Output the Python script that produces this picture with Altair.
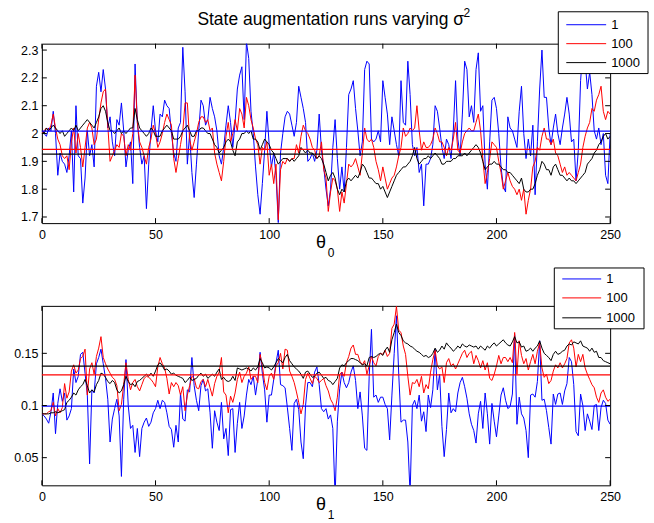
import altair as alt
import pandas as pd

# ---- series values, one entry per iteration 0..250 ----
SERIES = ["1", "100", "1000"]
COLORS = ["#0000ff", "#ff0000", "#000000"]

THETA0_S1 = [
    2.01, 2.00, 1.99, 2.02, 2.01, 2.08, 2.00, 1.85, 1.93, 1.90,
    1.89, 1.86, 1.92, 2.01, 1.79, 2.10, 1.92, 1.91, 1.75, 1.84,
    2.01, 1.92, 1.96, 1.88, 2.17, 2.22, 2.15, 2.23, 2.16, 2.02,
    2.06, 1.97, 1.92, 2.05, 2.03, 2.11, 2.01, 1.88, 1.94, 1.97,
    1.82, 2.25, 2.04, 1.95, 1.89, 1.92, 1.73, 1.89, 2.01, 2.10,
    2.01, 1.97, 2.07, 2.06, 2.12, 2.10, 2.09, 2.00, 1.93, 1.90,
    2.02, 2.04, 2.31, 2.15, 1.89, 2.00, 1.86, 1.77, 1.89, 2.01,
    2.12, 2.10, 2.03, 2.05, 2.13, 2.09, 2.06, 2.01, 1.92, 1.89,
    1.95, 2.03, 2.10, 2.04, 1.95, 2.04, 2.16, 2.21, 2.24, 2.05,
    2.33, 2.27, 2.08, 2.00, 1.88, 1.78, 1.71, 1.82, 1.94, 2.08,
    1.96, 1.88, 1.93, 1.85, 1.68, 1.93, 2.00, 2.06, 2.08, 2.07,
    2.03, 1.99, 2.04, 2.17, 2.13, 2.09, 2.04, 1.90, 1.91, 1.93,
    1.90, 1.94, 2.07, 1.94, 1.88, 1.80, 1.74, 1.80, 1.95, 2.05,
    1.91, 1.80, 1.88, 1.79, 1.95, 2.14, 2.16, 2.19, 2.09, 2.01,
    1.92, 1.97, 2.23, 2.26, 2.25, 1.98, 1.97, 1.98, 2.01, 1.97,
    2.19, 2.13, 2.07, 1.96, 2.06, 2.01, 1.96, 1.92, 2.19, 2.04,
    2.03, 2.26, 2.14, 1.96, 1.92, 1.95, 1.86, 1.89, 1.74, 1.89,
    1.89, 1.91, 1.96, 2.10, 2.08, 2.02, 1.95, 1.91, 1.98, 1.96,
    1.91, 2.01, 2.19, 1.98, 1.92, 2.07, 2.26, 2.23, 2.06, 2.10,
    2.04, 2.23, 2.29, 2.08, 2.10, 1.89, 1.80, 1.97, 2.12, 2.13,
    2.09, 2.00, 1.88, 1.81, 1.79, 2.06, 2.02, 2.01, 1.98, 1.95,
    2.08, 2.17, 2.00, 1.91, 1.98, 1.92, 2.03, 1.78, 1.97, 2.16,
    2.30, 2.13, 2.13, 2.02, 1.96, 2.02, 2.07, 2.00, 1.96, 2.02,
    2.07, 2.13, 2.07, 1.97, 1.98, 1.83, 1.94, 2.19, 2.30, 2.26,
    2.16, 2.22, 2.14, 2.01, 1.98, 2.02, 1.96, 2.00, 1.85, 1.82, 2.00,
]

THETA0_S100 = [
    2.00, 2.01, 2.02, 2.01, 2.03, 2.07, 2.02, 1.98, 1.96, 1.92,
    1.91, 1.92, 1.87, 1.97, 2.02, 1.93, 2.00, 1.95, 1.88, 1.95,
    2.02, 2.04, 2.02, 1.96, 1.98, 2.05, 2.11, 2.15, 2.16, 2.03,
    1.90, 1.92, 1.94, 1.96, 1.95, 2.00, 1.99, 1.92, 1.96, 1.94,
    2.00, 2.21, 2.04, 1.97, 1.95, 1.92, 1.89, 1.95, 1.98, 2.03,
    2.00, 1.95, 1.97, 2.00, 2.04, 2.07, 2.05, 2.03, 1.91, 1.86,
    1.91, 1.96, 2.01, 2.11, 2.11, 1.98, 1.94, 1.97, 2.00, 2.04,
    2.06, 2.06, 2.04, 2.05, 2.01, 2.02, 1.93, 1.89, 1.86, 1.83,
    1.90, 1.99, 2.04, 1.97, 2.00, 2.05, 2.01, 2.09, 2.07, 2.02,
    2.13, 2.10, 2.05, 2.02, 1.98, 1.96, 1.89, 1.95, 1.94, 1.97,
    1.85, 1.89, 1.82, 1.89, 1.69, 1.87, 1.90, 1.89, 1.91, 1.90,
    1.91, 1.91, 1.96, 1.93, 1.99, 2.03, 2.01, 2.00, 1.98, 1.95,
    1.94, 1.91, 1.92, 1.97, 1.87, 1.84, 1.72, 1.79, 1.84, 1.83,
    1.80, 1.72, 1.79, 1.75, 1.82, 1.89, 1.88, 1.89, 1.91, 1.88,
    1.85, 1.93, 2.02, 1.98, 1.97, 1.98, 1.95, 1.90, 1.87, 1.83,
    1.88, 1.84, 1.80, 1.82, 1.84, 1.85, 1.88, 1.92, 1.95, 2.02,
    1.99, 2.00, 2.02, 2.01, 2.02, 2.10, 2.01, 1.94, 1.97, 1.95,
    1.95, 1.96, 1.98, 2.02, 2.00, 1.97, 1.97, 1.95, 1.92, 1.95,
    1.94, 1.98, 2.04, 1.94, 1.93, 1.97, 2.00, 2.01, 2.02, 2.01,
    2.01, 2.04, 2.07, 2.01, 1.91, 1.82, 1.86, 1.91, 1.97, 1.96,
    1.95, 1.90, 1.86, 1.80, 1.83, 1.86, 1.83, 1.81, 1.80, 1.78,
    1.80, 1.76, 1.80, 1.71, 1.76, 1.80, 1.88, 1.90, 1.95, 1.94,
    1.99, 2.02, 1.98, 1.98, 1.96, 1.98, 1.93, 1.92, 1.89, 1.86,
    1.88, 1.85, 1.86, 1.85, 1.84, 1.83, 1.86, 1.89, 1.95, 1.99,
    2.02, 2.04, 2.09, 2.08, 2.12, 2.14, 2.17, 2.08, 2.05, 2.08, 2.07,
]

THETA0_S1000 = [
    2.01, 2.00, 2.02, 2.01, 2.02, 2.03, 2.02, 2.01, 2.00, 2.01,
    1.99, 2.00, 2.01, 2.02, 2.01, 2.03, 2.01, 2.02, 2.03, 2.04,
    2.05, 2.04, 2.03, 2.02, 2.04, 2.06, 2.09, 2.10, 2.08, 2.04,
    2.01, 2.01, 2.00, 2.01, 2.02, 2.00, 2.01, 2.00, 2.01, 2.02,
    2.02, 2.09, 2.05, 2.02, 2.01, 2.00, 1.99, 2.00, 2.02, 2.01,
    1.99, 1.99, 1.99, 2.01, 2.02, 2.03, 2.02, 2.01, 1.98, 1.98,
    1.98, 1.99, 2.01, 2.02, 2.03, 2.01, 1.99, 1.99, 2.01, 2.01,
    2.02, 2.02, 2.01, 2.00, 2.00, 1.98, 1.96, 1.95, 1.93, 1.94,
    1.95, 1.97, 1.98, 1.97, 1.94, 1.92, 1.97, 1.98, 2.00, 2.00,
    2.01, 2.00, 2.01, 1.98, 1.98, 1.97, 1.94, 1.96, 1.98, 1.97,
    1.96, 1.94, 1.93, 1.91, 1.89, 1.90, 1.91, 1.91, 1.91, 1.90,
    1.91, 1.90, 1.91, 1.92, 1.95, 1.94, 1.93, 1.94, 1.93, 1.93,
    1.92, 1.91, 1.92, 1.91, 1.89, 1.86, 1.83, 1.85, 1.86, 1.84,
    1.80, 1.78, 1.80, 1.79, 1.83, 1.84, 1.83, 1.84, 1.85, 1.84,
    1.86, 1.89, 1.88, 1.86, 1.84, 1.84, 1.83, 1.82, 1.82, 1.80,
    1.81, 1.79, 1.77, 1.79, 1.81, 1.83, 1.85, 1.86, 1.87, 1.88,
    1.88, 1.89, 1.90, 1.92, 1.95, 1.91, 1.89, 1.90, 1.91, 1.91,
    1.92, 1.91, 1.92, 1.93, 1.92, 1.91, 1.89, 1.89, 1.90, 1.90,
    1.90, 1.91, 1.91, 1.92, 1.92, 1.92, 1.93, 1.92, 1.93, 1.94,
    1.95, 1.96, 1.95, 1.93, 1.90, 1.87, 1.88, 1.89, 1.89, 1.90,
    1.89, 1.89, 1.88, 1.87, 1.87, 1.86, 1.86, 1.85, 1.84, 1.83,
    1.82, 1.84, 1.80, 1.79, 1.79, 1.80, 1.80, 1.82, 1.85, 1.87,
    1.90, 1.89, 1.87, 1.87, 1.85, 1.88, 1.89, 1.87, 1.85, 1.85,
    1.84, 1.83, 1.84, 1.83, 1.83, 1.82, 1.83, 1.84, 1.85, 1.86,
    1.89, 1.90, 1.91, 1.93, 1.94, 1.96, 1.97, 1.99, 2.00, 1.98, 1.99,
]

THETA1_S1 = [
    0.092, 0.090, 0.087, 0.083, 0.094, 0.112, 0.073, 0.102, 0.116, 0.104,
    0.112, 0.086, 0.090, 0.097, 0.135, 0.122, 0.128, 0.149, 0.151, 0.131,
    0.110, 0.044, 0.115, 0.112, 0.140, 0.146, 0.154, 0.140, 0.126, 0.106,
    0.065, 0.087, 0.097, 0.106, 0.090, 0.032, 0.106, 0.144, 0.100, 0.078,
    0.081, 0.055, 0.078, 0.051, 0.078, 0.084, 0.088, 0.080, 0.084, 0.093,
    0.097, 0.105, 0.097, 0.105, 0.103, 0.093, 0.080, 0.077, 0.060, 0.081,
    0.065, 0.112, 0.087, 0.085, 0.115, 0.113, 0.146, 0.119, 0.105, 0.095,
    0.119, 0.125, 0.114, 0.116, 0.093, 0.059, 0.095, 0.084, 0.076, 0.103,
    0.068, 0.078, 0.052, 0.096, 0.097, 0.055, 0.083, 0.103, 0.078, 0.090,
    0.110, 0.125, 0.120, 0.128, 0.110, 0.125, 0.151, 0.131, 0.115, 0.084,
    0.110, 0.110, 0.125, 0.141, 0.153, 0.120, 0.119, 0.117, 0.098, 0.078,
    0.057, 0.102, 0.106, 0.096, 0.065, 0.049, 0.100, 0.122, 0.122, 0.118,
    0.132, 0.137, 0.120, 0.097, 0.094, 0.097, 0.087, 0.091, 0.078, 0.012,
    0.085, 0.116, 0.132, 0.122, 0.117, 0.122, 0.132, 0.138, 0.124, 0.097,
    0.113, 0.090, 0.059, 0.057, 0.128, 0.173, 0.108, 0.110, 0.103, 0.108,
    0.108, 0.101, 0.097, 0.067, 0.110, 0.150, 0.186, 0.130, 0.084, 0.086,
    0.086, 0.065, 0.015, 0.100, 0.105, 0.097, 0.110, 0.085, 0.094, 0.075,
    0.110, 0.098, 0.115, 0.154, 0.115, 0.130, 0.080, 0.051, 0.077, 0.112,
    0.093, 0.097, 0.094, 0.112, 0.122, 0.127, 0.118, 0.107, 0.092, 0.082,
    0.076, 0.064, 0.092, 0.104, 0.078, 0.112, 0.092, 0.063, 0.102, 0.085,
    0.070, 0.090, 0.110, 0.117, 0.105, 0.097, 0.099, 0.111, 0.168, 0.082,
    0.108, 0.092, 0.088, 0.076, 0.050, 0.110, 0.111, 0.108, 0.123, 0.162,
    0.105, 0.106, 0.095, 0.079, 0.063, 0.111, 0.101, 0.111, 0.112, 0.101,
    0.114, 0.121, 0.146, 0.142, 0.120, 0.075, 0.071, 0.111, 0.100, 0.076,
    0.092, 0.085, 0.077, 0.100, 0.101, 0.076, 0.098, 0.105, 0.102, 0.086, 0.082,
]

THETA1_S100 = [
    0.092, 0.092, 0.092, 0.094, 0.095, 0.103, 0.090, 0.097, 0.093, 0.098,
    0.121, 0.107, 0.113, 0.133, 0.139, 0.131, 0.134, 0.145, 0.147, 0.154,
    0.110, 0.135, 0.141, 0.130, 0.147, 0.155, 0.166, 0.146, 0.140, 0.135,
    0.131, 0.127, 0.125, 0.119, 0.095, 0.101, 0.120, 0.141, 0.125, 0.115,
    0.122, 0.125, 0.118, 0.114, 0.120, 0.126, 0.128, 0.127, 0.125, 0.122,
    0.118, 0.137, 0.146, 0.140, 0.136, 0.126, 0.111, 0.122, 0.118, 0.122,
    0.119, 0.110, 0.118, 0.095, 0.110, 0.119, 0.128, 0.126, 0.117, 0.116,
    0.123, 0.125, 0.118, 0.125, 0.117, 0.109, 0.121, 0.128, 0.132, 0.146,
    0.113, 0.110, 0.093, 0.109, 0.103, 0.112, 0.125, 0.132, 0.122, 0.128,
    0.131, 0.137, 0.125, 0.128, 0.128, 0.122, 0.149, 0.138, 0.122, 0.115,
    0.128, 0.131, 0.125, 0.138, 0.141, 0.150, 0.135, 0.154, 0.153, 0.133,
    0.128, 0.122, 0.113, 0.103, 0.092, 0.101, 0.125, 0.131, 0.126, 0.121,
    0.128, 0.126, 0.122, 0.124, 0.126, 0.119, 0.114, 0.106, 0.102, 0.095,
    0.108, 0.130, 0.132, 0.128, 0.141, 0.147, 0.155, 0.158, 0.149, 0.149,
    0.142, 0.139, 0.143, 0.130, 0.138, 0.147, 0.141, 0.138, 0.147, 0.150,
    0.149, 0.153, 0.147, 0.150, 0.174, 0.178, 0.195, 0.172, 0.170, 0.157,
    0.149, 0.128, 0.110, 0.122, 0.121, 0.125, 0.118, 0.128, 0.112, 0.120,
    0.116, 0.132, 0.144, 0.153, 0.138, 0.135, 0.137, 0.122, 0.141, 0.145,
    0.138, 0.140, 0.135, 0.140, 0.145, 0.150, 0.153, 0.146, 0.150, 0.152,
    0.140, 0.148, 0.143, 0.136, 0.143, 0.134, 0.141, 0.126, 0.124, 0.130,
    0.138, 0.148, 0.140, 0.146, 0.146, 0.142, 0.146, 0.141, 0.170, 0.130,
    0.162, 0.148, 0.140, 0.145, 0.134, 0.142, 0.149, 0.140, 0.152, 0.160,
    0.136, 0.127, 0.130, 0.121, 0.124, 0.133, 0.139, 0.136, 0.141, 0.136,
    0.140, 0.145, 0.160, 0.163, 0.155, 0.137, 0.149, 0.142, 0.149, 0.136,
    0.130, 0.125, 0.120, 0.117, 0.108, 0.103, 0.112, 0.115, 0.108, 0.104, 0.106,
]

THETA1_S1000 = [
    0.092, 0.092, 0.092, 0.092, 0.093, 0.093, 0.094, 0.093, 0.094, 0.095,
    0.096, 0.103, 0.105, 0.108, 0.112, 0.110, 0.115, 0.118, 0.120, 0.125,
    0.119, 0.112, 0.115, 0.113, 0.120, 0.124, 0.131, 0.130, 0.127, 0.123,
    0.121, 0.124, 0.122, 0.115, 0.112, 0.114, 0.120, 0.128, 0.123, 0.120,
    0.121, 0.118, 0.123, 0.124, 0.126, 0.128, 0.130, 0.128, 0.131, 0.128,
    0.133, 0.139, 0.141, 0.138, 0.134, 0.135, 0.133, 0.130, 0.131, 0.129,
    0.128, 0.127, 0.126, 0.122, 0.124, 0.127, 0.124, 0.125, 0.126, 0.129,
    0.131, 0.128, 0.130, 0.126, 0.128, 0.130, 0.128, 0.132, 0.135, 0.125,
    0.127, 0.124, 0.123, 0.124, 0.128, 0.124, 0.136, 0.135, 0.134, 0.135,
    0.136, 0.135, 0.133, 0.136, 0.134, 0.137, 0.145, 0.141, 0.136, 0.137,
    0.136, 0.134, 0.137, 0.141, 0.145, 0.143, 0.141, 0.146, 0.149, 0.143,
    0.140, 0.137, 0.135, 0.133, 0.130, 0.126, 0.132, 0.133, 0.130, 0.127,
    0.128, 0.131, 0.132, 0.129, 0.126, 0.127, 0.124, 0.123, 0.120, 0.123,
    0.126, 0.136, 0.139, 0.138, 0.141, 0.143, 0.145, 0.145, 0.144, 0.143,
    0.141, 0.139, 0.140, 0.138, 0.146, 0.147, 0.146, 0.147, 0.149, 0.150,
    0.148, 0.153, 0.156, 0.151, 0.163, 0.170, 0.178, 0.170, 0.167, 0.162,
    0.160, 0.159, 0.157, 0.156, 0.154, 0.152, 0.151, 0.149, 0.147, 0.148,
    0.146, 0.147, 0.150, 0.155, 0.151, 0.153, 0.157, 0.154, 0.160, 0.157,
    0.155, 0.152, 0.154, 0.157, 0.155, 0.159, 0.157, 0.156, 0.158, 0.157,
    0.156, 0.157, 0.154, 0.157, 0.155, 0.153, 0.157, 0.155, 0.158, 0.160,
    0.157, 0.159, 0.161, 0.163, 0.160, 0.158, 0.157, 0.161, 0.166, 0.160,
    0.161, 0.156, 0.157, 0.152, 0.153, 0.155, 0.152, 0.155, 0.157, 0.162,
    0.155, 0.150, 0.148, 0.146, 0.143, 0.149, 0.152, 0.149, 0.150, 0.152,
    0.153, 0.157, 0.159, 0.158, 0.161, 0.160, 0.159, 0.162, 0.157, 0.156,
    0.155, 0.152, 0.155, 0.151, 0.152, 0.146, 0.146, 0.143, 0.142, 0.141, 0.140,
]

# horizontal reference levels per run
THETA0_MEANS = [2.009, 1.943, 1.926]
THETA1_MEANS = [0.0995, 0.1293, 0.1377]

X_TICKS = [0, 50, 100, 150, 200, 250]
THETA0_TICKS = [1.7, 1.8, 1.9, 2.0, 2.1, 2.2, 2.3]
THETA1_TICKS = [0.05, 0.1, 0.15]
THETA0_DOMAIN = [1.678, 2.323]
THETA1_DOMAIN = [0.0235, 0.1955]

TITLE = "State augmentation runs varying \u03c3"
TITLE_EXP = "2"
FONT = "Liberation Sans"
W, H = 570, 180
GAP = 83
CANVAS_W, CANVAS_H = 654, 523
ORIGIN_X, ORIGIN_Y = 41, 42


def panel(series_values, means, y_domain, y_ticks, subscript, legend, with_title=False):
    frames = [
        pd.DataFrame({"t": list(range(len(vals))), "v": vals, "s": name})
        for name, vals in zip(SERIES, series_values)
    ]
    df = pd.concat(frames, ignore_index=True)
    mean_df = pd.DataFrame({"s": SERIES, "v": means})

    x_enc = alt.X(
        "t:Q",
        scale=alt.Scale(domain=[0, 250], nice=False, zero=False),
        axis=alt.Axis(values=X_TICKS, ticks=False, domain=False, grid=False,
                      title=None, labelPadding=5, labelFlush=False, format="d"),
    )
    y_enc = alt.Y(
        "v:Q",
        scale=alt.Scale(domain=y_domain, nice=False, zero=False),
        axis=alt.Axis(values=y_ticks, ticks=False, domain=False, grid=False,
                      title=None, labelPadding=4, labelFlush=False, format="~g"),
    )
    color = alt.Color("s:N", scale=alt.Scale(domain=SERIES, range=COLORS), legend=None)

    lines = alt.Chart(df).mark_line(strokeWidth=1, clip=True).encode(
        x=x_enc, y=y_enc, color=color
    )
    levels = alt.Chart(mean_df).mark_rule(strokeWidth=1.3).encode(y=y_enc, color=color)

    # inward tick marks on all four sides of the box
    xt = pd.DataFrame({"t": X_TICKS})
    yt = pd.DataFrame({"v": y_ticks})
    tick_style = dict(color="black", strokeWidth=1)
    ticks = [
        alt.Chart(xt).mark_rule(**tick_style).encode(x=x_enc, y=alt.value(H), y2=alt.value(H - 5)),
        alt.Chart(xt).mark_rule(**tick_style).encode(x=x_enc, y=alt.value(0), y2=alt.value(5)),
        alt.Chart(yt).mark_rule(**tick_style).encode(y=y_enc, x=alt.value(0), x2=alt.value(5)),
        alt.Chart(yt).mark_rule(**tick_style).encode(y=y_enc, x=alt.value(W), x2=alt.value(W - 5)),
    ]

    one = pd.DataFrame({"k": [0]})

    def text(s, x, y, size, align="center"):
        return alt.Chart(one).mark_text(
            text=s, font=FONT, fontSize=size, align=align, baseline="middle", color="black"
        ).encode(x=alt.value(x), y=alt.value(y))

    # x-axis label: theta with a subscript index
    labels = [text("\u03b8", 280, 200, 18), text(subscript, 290, 210, 12)]

    # boxed legend in the upper right corner
    bx0, bx1, by0, by1, lx0, lx1, tx, rows = legend
    leg = [
        alt.Chart(one).mark_rect(fill="white", stroke="black", strokeWidth=1)
        .encode(x=alt.value(bx0), x2=alt.value(bx1), y=alt.value(by0), y2=alt.value(by1))
    ]
    for name, col, ry in zip(SERIES, COLORS, rows):
        leg.append(
            alt.Chart(one).mark_rule(color=col, strokeWidth=1)
            .encode(x=alt.value(lx0), x2=alt.value(lx1), y=alt.value(ry))
        )
        leg.append(text(name, tx, ry, 13, align="left"))

    layers = [lines, levels] + ticks + labels + leg
    if with_title:
        # transparent frame spanning the whole canvas, so the padded layout
        # puts the first plot's origin at a fixed offset
        frame = alt.Chart(one).mark_rect(fillOpacity=0, strokeOpacity=0).encode(
            x=alt.value(-ORIGIN_X), x2=alt.value(CANVAS_W - ORIGIN_X),
            y=alt.value(-ORIGIN_Y), y2=alt.value(CANVAS_H - ORIGIN_Y),
        )
        layers = [frame] + layers
        layers.append(text(TITLE, 156, -24, 17.5, align="left"))
        layers.append(text(TITLE_EXP, 423, -31, 12, align="left"))
    return alt.layer(*layers).properties(width=W, height=H)


top = panel(
    [THETA0_S1, THETA0_S100, THETA0_S1000], THETA0_MEANS, THETA0_DOMAIN, THETA0_TICKS, "0",
    (518, 608, -32, 30, 526, 566, 571, [-19, 0, 19]),
    with_title=True,
)
bottom = panel(
    [THETA1_S1, THETA1_S100, THETA1_S1000], THETA1_MEANS, THETA1_DOMAIN, THETA1_TICKS, "1",
    (514, 604, -38, 23, 522, 561, 566, [-27, -8, 12]),
)

chart = (
    alt.vconcat(top, bottom, spacing=GAP, bounds="flush")
    .properties(padding=0, background="white")
    .configure_view(stroke="black", strokeWidth=1)
    .configure_axis(labelFont=FONT, labelFontSize=12.5, labelColor="black")
)

chart.save("out.html", embed_options={"renderer": "svg", "actions": False})
